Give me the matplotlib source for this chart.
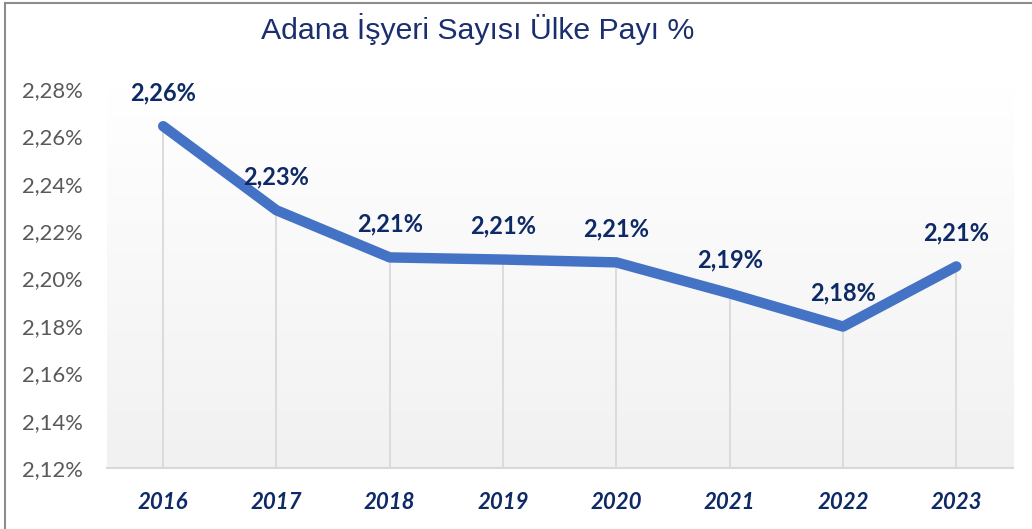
import matplotlib
matplotlib.use("Agg")
import matplotlib.pyplot as plt
import numpy as np
from matplotlib.lines import Line2D

years = ["2016", "2017", "2018", "2019", "2020", "2021", "2022", "2023"]
share = [2.2643, 2.2288, 2.2089, 2.2080, 2.2068, 2.1937, 2.1797, 2.2051]
yticks = [2.12, 2.14, 2.16, 2.18, 2.20, 2.22, 2.24, 2.26, 2.28]
title = "Adana İşyeri Sayısı Ülke Payı %"

W, H = 1032, 529
fig = plt.figure(figsize=(W / 100, H / 100), dpi=100)
ax = fig.add_axes([106.5 / W, 1 - 468 / H, (1013 - 106.5) / W, (468 - 89) / H])

x = np.arange(len(years))
ax.set_xlim(-0.5, len(years) - 0.5)
ax.set_ylim(2.12, 2.28)

# gradient background
grad = np.linspace(1.0, 0.945, 256).reshape(-1, 1)
ax.imshow(np.dstack([grad, grad, grad]), extent=[-0.5, len(years) - 0.5, 2.12, 2.28],
          aspect="auto", zorder=0, origin="upper")

# drop lines
ax.vlines(x, 2.12, share, color="#d9d9d9", lw=1.3, zorder=1)

ax.plot(x, share, color="#4472C4", lw=7.5, solid_capstyle="round",
        solid_joinstyle="round", zorder=3)

navy = "#0E2A66"
for xi, v in zip(x, share):
    ax.annotate(f"{v:.2f}%".replace(".", ","), (xi, v), xytext=(0, 24),
                textcoords="offset points", ha="center", va="center",
                fontsize=17, fontweight="bold", color=navy, family="Lato", zorder=4)

ax.set_yticks(yticks)
ax.set_yticklabels([f"{t:.2f}%".replace(".", ",") for t in yticks],
                   fontsize=15.8, color="#595959", family="Lato")
ax.set_xticks(x)
ax.set_xticklabels(years, fontsize=16, fontweight="bold", fontstyle="italic",
                   color=navy, family="Lato")
ax.tick_params(axis="y", length=0, pad=17)
ax.tick_params(axis="x", length=0, pad=17)

for s in ["top", "right", "left"]:
    ax.spines[s].set_visible(False)
ax.spines["bottom"].set_color("#d9d9d9")
ax.spines["bottom"].set_linewidth(1.5)
ax.spines["bottom"].set_zorder(2)

fig.text(478 / W, 1 - 29 / H, title, ha="center", va="center", fontsize=21.8,
         color="#1B2F6E", family="Liberation Sans")

# outer frame (top and left visible)
fig.add_artist(Line2D([5 / W, 1], [1 - 2.5 / H, 1 - 2.5 / H], color="#8c8c8c", lw=1.5,
                      transform=fig.transFigure))
fig.add_artist(Line2D([5 / W, 5 / W], [0, 1 - 2.5 / H], color="#8c8c8c", lw=1.5,
                      transform=fig.transFigure))

fig.savefig("out.png", dpi=100)
